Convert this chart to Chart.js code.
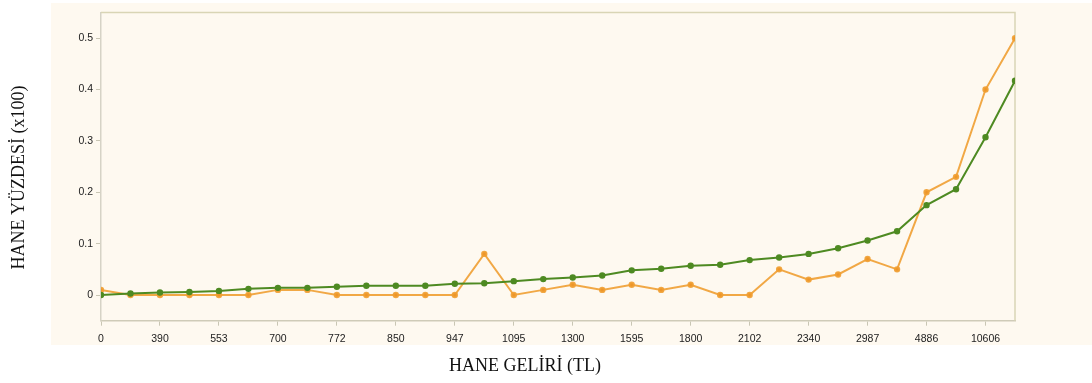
<!DOCTYPE html>
<html>
<head>
<meta charset="utf-8">
<script src="https://cdn.jsdelivr.net/npm/chart.js@4/dist/chart.umd.min.js"></script>
<style>
  html, body { margin: 0; padding: 0; background: #ffffff; }
  #wrap { position: relative; width: 1092px; height: 383px; }
</style>
</head>
<body>
<div id="wrap"><canvas id="c" width="1092" height="383"></canvas></div>
<script>
// Income bands shown on the axis (every second category is labelled)
const tickLabels = ['0', '390', '553', '700', '772', '850', '947', '1095', '1300',
  '1595', '1800', '2102', '2340', '2987', '4886', '10606'];

// Share of households per income category (x100)
const seriesOrange = [0.01, 0, 0, 0, 0, 0, 0.01, 0.01, 0, 0, 0, 0, 0, 0.08, 0, 0.01,
  0.02, 0.01, 0.02, 0.01, 0.02, 0, 0, 0.05, 0.03, 0.04, 0.07, 0.05, 0.2, 0.23, 0.4, 0.5];
const seriesGreen = [0, 0.003, 0.005, 0.006, 0.008, 0.012, 0.014, 0.014, 0.016, 0.018,
  0.018, 0.018, 0.022, 0.023, 0.027, 0.031, 0.034, 0.038, 0.048, 0.051, 0.057, 0.059,
  0.068, 0.073, 0.08, 0.091, 0.106, 0.124, 0.175, 0.206, 0.307, 0.417];

const yTickValues = [0, 0.1, 0.2, 0.3, 0.4, 0.5];

const xTitle = 'HANE GELİRİ (TL)';
const yTitle = 'HANE YÜZDESİ (x100)';

const toPoints = arr => arr.map((v, i) => ({ x: i, y: v }));

const panelPlugin = {
  id: 'panel',
  beforeDraw(chart) {
    const ctx = chart.ctx;
    ctx.save();
    ctx.fillStyle = '#fef9f0';
    ctx.fillRect(51, 3, 1041, 342);
    ctx.restore();
  },
  beforeDatasetsDraw(chart) {
    const { ctx, chartArea: a } = chart;
    ctx.save();
    ctx.strokeStyle = '#d9d5b5';
    ctx.lineWidth = 1.5;
    ctx.beginPath();
    ctx.moveTo(a.left, a.top);
    ctx.lineTo(a.right, a.top);
    ctx.lineTo(a.right, a.bottom);
    ctx.stroke();
    ctx.restore();
  },
  afterDraw(chart) {
    const ctx = chart.ctx;
    ctx.save();
    ctx.fillStyle = '#111';
    ctx.font = '18px "Liberation Serif", "Times New Roman", serif';
    ctx.textAlign = 'center';
    ctx.textBaseline = 'middle';
    ctx.fillText(xTitle, 525, 366.5);
    ctx.translate(18.8, 177.5);
    ctx.rotate(-Math.PI / 2);
    ctx.fillText(yTitle, 0, 0);
    ctx.restore();
  }
};

new Chart(document.getElementById('c'), {
  type: 'line',
  data: {
    datasets: [
      {
        label: 'green',
        data: toPoints(seriesGreen),
        borderColor: '#4e8a22',
        backgroundColor: '#4e8a22',
        borderWidth: 2,
        pointRadius: 2.2,
        pointHoverRadius: 2.2,
        tension: 0
      },
      {
        label: 'orange',
        data: toPoints(seriesOrange),
        borderColor: 'rgba(240,158,50,0.9)',
        backgroundColor: 'rgba(236,148,40,0.95)',
        borderWidth: 2,
        pointRadius: 2.2,
        pointHoverRadius: 2.2,
        tension: 0
      }
    ]
  },
  plugins: [panelPlugin],
  options: {
    responsive: false,
    animation: false,
    events: [],
    layout: { padding: { top: 12.5, right: 77, left: 0, bottom: 0 } },
    plugins: { legend: { display: false }, tooltip: { enabled: false } },
    scales: {
      x: {
        type: 'linear',
        min: 0,
        max: seriesGreen.length - 1,
        afterBuildTicks(axis) {
          axis.ticks = tickLabels.map((_, i) => ({ value: i * 2 }));
        },
        afterFit(scale) { scale.height = 62.3; },
        grid: { display: true, drawOnChartArea: false, drawTicks: true, tickLength: 5, color: '#c9c6b4' },
        border: { display: true, color: '#cfcbb8', width: 1.5 },
        ticks: {
          autoSkip: false,
          maxRotation: 0,
          padding: 7,
          color: '#222',
          font: { family: '"Liberation Sans", Arial, sans-serif', size: 10.5 },
          callback: v => tickLabels[Math.round(v / 2)]
        }
      },
      y: {
        min: -0.05,
        max: 0.55,
        afterBuildTicks(axis) {
          axis.ticks = yTickValues.map(v => ({ value: v }));
        },
        afterFit(scale) { scale.width = 101; },
        grid: { display: true, drawOnChartArea: false, drawTicks: true, tickLength: 5, color: '#c9c6b4' },
        border: { display: true, color: '#d6d3c6', width: 1.5 },
        ticks: {
          padding: 3,
          color: '#222',
          font: { family: '"Liberation Sans", Arial, sans-serif', size: 10.5 },
          callback: v => String(+v.toFixed(2))
        }
      }
    }
  }
});
</script>
</body>
</html>
